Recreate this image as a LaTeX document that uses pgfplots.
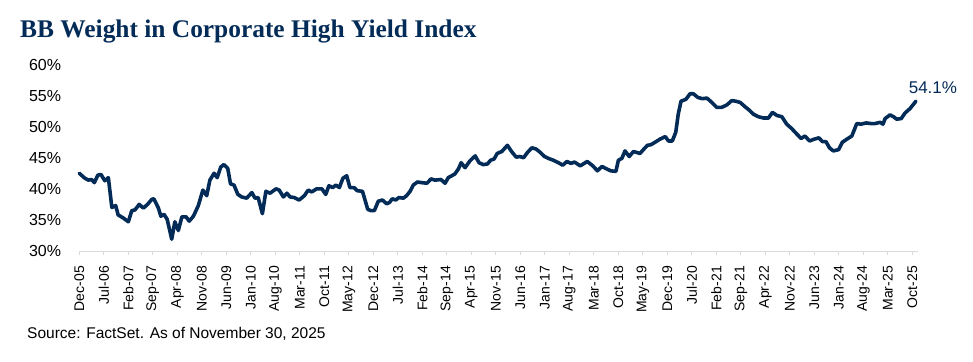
\documentclass[border=0pt]{standalone}
\usepackage{pgfplots}
\pgfplotsset{compat=1.18}
\usepackage{fontspec}
\setmainfont{Liberation Sans}
\newfontfamily\titlefont{Liberation Serif}
\definecolor{navy}{HTML}{032B57}
\definecolor{axgray}{HTML}{D9D9D9}
\begin{document}
\begin{tikzpicture}[x=1pt,y=1pt]
\useasboundingbox (0,0) rectangle (973,361);
\node[anchor=base west, inner sep=0pt, font=\titlefont\bfseries\fontsize{25.4}{30}\selectfont, text=navy] at (20,323) {BB Weight in Corporate High Yield Index};
\node[anchor=base west, inner sep=0pt, font=\fontsize{15.5}{18}\selectfont] at (27,23) {Source: FactSet. As of November 30, 2025};
\begin{axis}[
  at={(79.3pt,110pt)}, anchor=south west,
  scale only axis, width=838.7pt, height=186.5pt,
  xmin=0, xmax=239.6, ymin=30, ymax=60,
  clip=false,
  axis x line*=bottom, axis y line*=left,
  x axis line style={axgray, line width=0.9pt, -},
  y axis line style={draw=none},
  xtick={0,7,...,238},
  xticklabels={Dec-05,Jul-06,Feb-07,Sep-07,Apr-08,Nov-08,Jun-09,Jan-10,Aug-10,Mar-11,Oct-11,May-12,Dec-12,Jul-13,Feb-14,Sep-14,Apr-15,Nov-15,Jun-16,Jan-17,Aug-17,Mar-18,Oct-18,May-19,Dec-19,Jul-20,Feb-21,Sep-21,Apr-22,Nov-22,Jun-23,Jan-24,Aug-24,Mar-25,Oct-25},
  x tick label style={rotate=90, anchor=east, inner sep=0pt, xshift=-11pt, font=\fontsize{14}{16}\selectfont},
  xtick style={axgray, line width=0.9pt},
  tick align=outside, major tick length=4pt,
  ytick={30,35,...,60},
  yticklabels={30\%,35\%,40\%,45\%,50\%,55\%,60\%},
  y tick label style={anchor=east, inner sep=0pt, xshift=-14pt, font=\fontsize{16}{18}\selectfont},
  ytick style={draw=none},
]
\addplot[navy, line width=3.6pt, line join=round, line cap=round] coordinates {
(0,42.5)(1.6,41.7)(2.6,41.4)(3.5,41.5)(4.3,41.0)(5.3,42.2)(6.2,42.3)(7.3,41.3)(8.3,41.8)
(9.3,37.0)(10.4,37.3)(11.1,35.8)(12.6,35.3)(14,34.7)(15,36.5)(15.9,36.6)(17.1,37.5)(18.3,36.9)
(19.5,37.5)(20.7,38.3)(21.3,38.4)(22.6,36.9)(23.3,35.6)(24.2,35.9)(25.1,35.1)(26.4,31.9)(27.3,34.7)
(28.3,33.3)(29.3,35.5)(30.5,35.5)(31.4,34.8)(32.6,35.6)(34,37.3)(35.3,39.8)(36.4,38.9)(37.3,41.4)
(38.5,42.5)(39.4,41.8)(40.4,43.5)(41.3,43.9)(42.4,43.3)(43.2,40.8)(44.2,40.6)(45.3,39.1)(46.4,38.7)
(47.8,38.5)(49.3,39.4)(50.2,38.5)(51.1,38.6)(52.3,36.0)(53.3,39.6)(54.5,39.3)(56.2,40.0)(57.1,39.8)
(58.3,38.7)(59.3,39.3)(60.2,38.7)(61.4,38.6)(62.8,38.2)(64.3,38.9)(65.4,39.8)(66.4,39.5)(67.8,40.0)
(69.3,40.0)(70.4,39.1)(71.3,40.5)(72.4,40.2)(73.3,40.6)(74.3,40.2)(75.3,41.7)(76.4,42.1)(77.3,40.2)
(78.5,40.2)(79.4,39.7)(80.9,39.6)(82.4,36.7)(83.3,36.5)(84.3,36.5)(85.4,38.0)(86.6,38.2)(87.8,37.6)
(88.6,37.8)(89.4,38.4)(90.4,38.2)(91.3,38.6)(92.6,38.5)(93.5,38.9)(94.5,39.6)(95.4,40.6)(96.6,41.1)
(97.8,41.0)(99.3,40.9)(100.5,41.6)(101.6,41.4)(103.3,41.5)(104.5,40.9)(105.4,41.8)(106.4,42.1)
(107.3,42.4)(108.3,43.2)(109.1,44.2)(110.2,43.4)(111.6,44.5)(113.1,45.3)(114.2,44.2)(115.4,43.9)
(116.6,44.0)(117.5,44.6)(118.5,44.8)(119.4,45.7)(120.7,46.0)(122.3,47.0)(123.5,46.0)(124.8,45.1)
(125.9,45.2)(126.9,45.0)(128.1,45.9)(129.3,46.6)(130.5,46.4)(131.6,45.9)(132.9,45.2)(134,44.9)
(135.4,44.6)(136.9,44.2)(138.1,43.8)(139.3,44.4)(140.4,44.1)(141.5,44.3)(143.1,43.7)(145.1,44.4)
(146.7,43.7)(148,42.9)(149.3,43.6)(150.7,43.2)(151.8,42.9)(153.3,42.8)(154,44.6)(155,44.9)
(155.9,46.1)(157.1,45.2)(158.3,46.0)(160.2,45.7)(161.3,46.4)(162.3,47.0)(163.3,47.1)(164.8,47.6)
(165.9,48.0)(167.4,48.4)(168.3,47.7)(169.4,47.7)(170.4,49.1)(171.1,52.0)(171.9,54.1)(173.3,54.4)
(174.5,55.3)(175.4,55.3)(176.7,54.7)(178,54.5)(179.3,54.6)(180.7,53.9)(182.1,53.1)(183.5,53.1)
(185,53.5)(186.4,54.2)(187.5,54.1)(188.8,53.9)(190.2,53.2)(191.3,52.7)(192.6,52.0)(194,51.6)
(195.4,51.4)(196.9,51.4)(198,52.3)(199.3,51.8)(200.7,51.6)(202.1,50.4)(203.5,49.7)(205,48.8)
(206.2,48.1)(207.3,48.5)(208.6,47.7)(210,48.0)(211.3,48.2)(212.3,47.6)(213.3,47.6)(214.3,46.6)
(215.4,46.1)(216.9,46.3)(218,47.5)(219.3,48.0)(220.7,48.5)(221.4,49.5)(222.1,50.5)(223.3,50.4)
(224.8,50.6)(226.2,50.5)(227.3,50.5)(228.8,50.7)(229.6,50.4)(230.2,51.3)(231.6,51.9)(232.6,51.6)
(233.5,51.2)(234.8,51.3)(235.9,52.2)(237.3,52.9)(239,54.1)
};
\node[anchor=base, inner sep=0pt, text=navy, font=\fontsize{17}{20}\selectfont, xshift=17pt, yshift=8pt] at (axis cs:239,54.1) {54.1\%};
\end{axis}
\end{tikzpicture}
\end{document}
